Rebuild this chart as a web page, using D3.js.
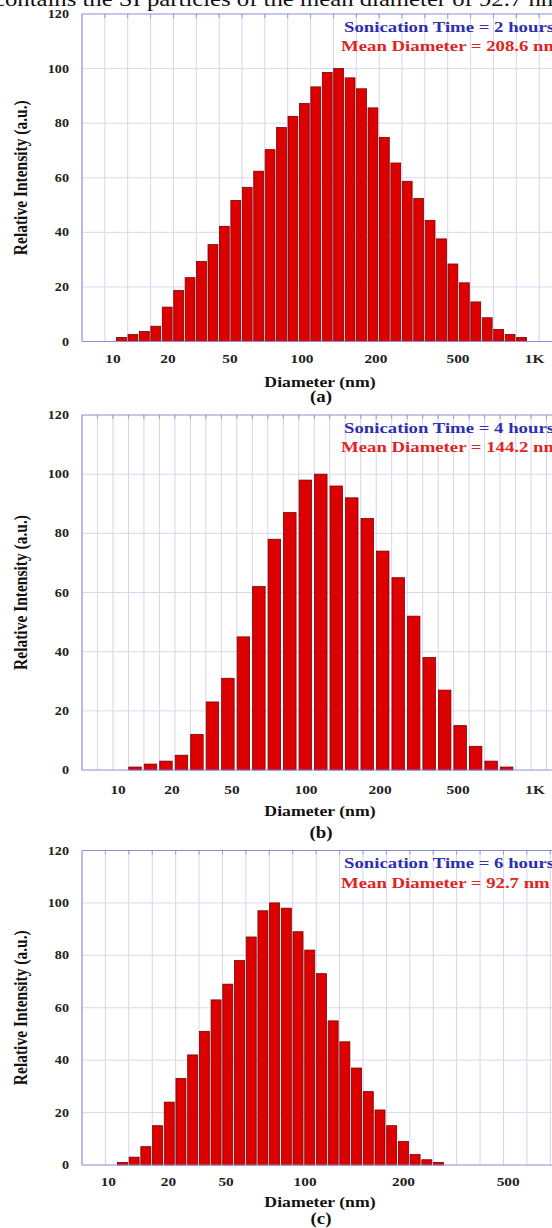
<!DOCTYPE html>
<html>
<head>
<meta charset="utf-8">
<script src="https://cdn.jsdelivr.net/npm/d3@7"></script>
<style>
  html, body { margin: 0; padding: 0; background: #fff; }
  svg { display: block; }
  text { font-family: "Liberation Serif", "Times New Roman", serif; }
</style>
</head>
<body>
<svg id="chart" width="552" height="1228"></svg>
<script>
// ---------------- data ----------------
const captionText = "contains the SI particles of the mean diameter of 92.7 nm";
const panelLabels = ["(a)", "(b)", "(c)"];
const sonicationTimes = ["Sonication Time = 2 hours", "Sonication Time = 4 hours", "Sonication Time = 6 hours"];
const meanDiameters = ["Mean Diameter = 208.6 nm", "Mean Diameter = 144.2 nm", "Mean Diameter = 92.7 nm"];
const yAxisTitle = "Relative Intensity (a.u.)";
const xAxisTitle = "Diameter (nm)";
const yTickValues = [0, 20, 40, 60, 80, 100, 120];

// relative intensity per size bin (bins are equal-width on the display axis)
const intensityA = [1.5, 2.6, 3.7, 5.6, 12.6, 18.7, 23.4, 29.3, 35.5, 42.2, 51.7, 56.5,
                    62.4, 70.3, 78.4, 82.5, 87.2, 93.3, 98.6, 100, 96.6, 92.6, 85.6, 74.8,
                    65.4, 58.7, 52.4, 44.4, 37.6, 28.4, 21.5, 14.5, 8.7, 4.4, 2.6, 1.5];
const intensityB = [1, 2, 3, 5, 12, 23, 31, 45, 62, 78, 87, 98, 100, 96, 92, 85, 74, 65,
                    52, 38, 27, 15, 8, 3, 1];
const intensityC = [1, 3, 7, 15, 24, 33, 42, 51, 63, 69, 78, 87, 97, 100, 98, 89, 82, 73,
                    55, 47, 37, 28, 21, 15, 9, 4, 2, 1];

// x axis in "bin slot" units for each panel
const slotCounts = [42, 31, 41];
const firstBinSlot = 3;
const tickLabelsA = ["10", "20", "50", "100", "200", "500", "1K"];
const tickSlotsA = [2.71, 7.52, 12.95, 19.25, 25.72, 32.9, 39.6];
const tickLabelsB = ["10", "20", "50", "100", "200", "500", "1K"];
const tickSlotsB = [2.33, 5.81, 9.69, 14.47, 19.25, 24.29, 29.26];
const tickLabelsC = ["10", "20", "50", "100", "200", "500"];
const tickSlotsC = [2.25, 7.38, 12.31, 19.06, 27.46, 36.4];

// ---------------- drawing ----------------
const svg = d3.select("#chart");
const STRETCH = 1.18;
function stretch(sel, k) {
  sel.each(function () {
    const w = this.getComputedTextLength();
    d3.select(this).attr("textLength", w * k).attr("lengthAdjust", "spacingAndGlyphs");
  });
}

// clipped caption line from the page above
svg.append("text")
  .attr("x", -6).attr("y", 6)
  .attr("font-size", 21)
  .attr("fill", "#111")
  .text(captionText)
  .attr("textLength", 566).attr("lengthAdjust", "spacingAndGlyphs");

const panels = [
  { values: intensityA, slots: slotCounts[0], ticks: tickSlotsA, tickLabels: tickLabelsA,
    top: 14, bottom: 341.5, gridEvery: 2, barGap: 1.6, tickDy: 17, titleDy: 40, letterDy: 54 },
  { values: intensityB, slots: slotCounts[1], ticks: tickSlotsB, tickLabels: tickLabelsB,
    top: 415, bottom: 770, gridEvery: 1, barGap: 3, tickDy: 19, titleDy: 41, letterDy: 62 },
  { values: intensityC, slots: slotCounts[2], ticks: tickSlotsC, tickLabels: tickLabelsC,
    top: 850.5, bottom: 1165, gridEvery: 2, barGap: 1.7, tickDy: 16, titleDy: 37, letterDy: 53 }
];

const left = 82, right = 562;

panels.forEach((p, pi) => {
  const g = svg.append("g");
  const x = d3.scaleLinear().domain([0, p.slots]).range([left, right]);
  const y = d3.scaleLinear().domain([0, 120]).range([p.bottom, p.top]);

  // vertical grid
  const gridSlots = d3.range(p.gridEvery, p.slots + 1, p.gridEvery);
  g.selectAll(".vg").data(gridSlots).join("line")
    .attr("x1", d => x(d)).attr("x2", d => x(d))
    .attr("y1", y(120)).attr("y2", y(0))
    .attr("stroke", "#d4d4ef").attr("stroke-width", 1);
  // top tick marks
  g.selectAll(".tt").data(gridSlots).join("line")
    .attr("x1", d => x(d)).attr("x2", d => x(d))
    .attr("y1", y(120)).attr("y2", y(120) + 4)
    .attr("stroke", "#9a9ad8").attr("stroke-width", 1);

  // horizontal grid
  g.selectAll(".hg").data(yTickValues.filter(v => v > 0 && v < 120)).join("line")
    .attr("x1", left).attr("x2", right)
    .attr("y1", d => y(d)).attr("y2", d => y(d))
    .attr("stroke", "#d8d8f0").attr("stroke-width", 1);

  // bars
  const slotW = x(1) - x(0);
  g.selectAll(".bar").data(p.values).join("rect")
    .attr("x", (d, i) => x(firstBinSlot + i) + 0.3)
    .attr("width", slotW - p.barGap)
    .attr("y", d => y(d))
    .attr("height", d => y(0) - y(d))
    .attr("fill", "#dc0000")
    .attr("stroke", "#7c0000").attr("stroke-width", 0.8);

  // axes / frame
  g.append("line").attr("x1", left).attr("x2", right).attr("y1", y(120)).attr("y2", y(120))
    .attr("stroke", "#8c8cd6").attr("stroke-width", 1.2);
  g.append("line").attr("x1", left).attr("x2", right).attr("y1", y(0)).attr("y2", y(0))
    .attr("stroke", "#8c8cd6").attr("stroke-width", 1.2);
  g.append("line").attr("x1", left).attr("x2", left).attr("y1", y(120)).attr("y2", y(0))
    .attr("stroke", "#8c8cd6").attr("stroke-width", 1.2);

  // y tick labels
  const yl = g.selectAll(".yl").data(yTickValues).join("text")
    .attr("x", left - 13).attr("y", d => y(d) + 4)
    .attr("text-anchor", "end")
    .attr("font-size", 12).attr("font-weight", "bold").attr("fill", "#222")
    .text(d => d);
  stretch(yl, STRETCH);

  // x tick labels
  const xl = g.selectAll(".xl").data(p.ticks).join("text")
    .attr("x", d => x(d)).attr("y", p.bottom + p.tickDy + 4.5)
    .attr("text-anchor", "middle")
    .attr("font-size", 13).attr("font-weight", "bold").attr("fill", "#222")
    .text((d, i) => p.tickLabels[i]);
  stretch(xl, STRETCH);

  // axis titles
  const xt = g.append("text")
    .attr("x", 320).attr("y", p.bottom + p.titleDy + 5)
    .attr("text-anchor", "middle")
    .attr("font-size", 15).attr("font-weight", "bold").attr("fill", "#111")
    .text(xAxisTitle);
  stretch(xt, STRETCH);

  const lt = g.append("text")
    .attr("x", 321).attr("y", p.bottom + p.letterDy + 6)
    .attr("text-anchor", "middle")
    .attr("font-size", 16).attr("font-weight", "bold").attr("fill", "#111")
    .text(panelLabels[pi]);
  stretch(lt, STRETCH);

  const cy = (p.top + p.bottom) / 2;
  g.append("text")
    .attr("transform", `translate(27,${cy}) scale(1.15,1) rotate(-90)`)
    .attr("text-anchor", "middle")
    .attr("font-size", 15.5).attr("font-weight", "bold").attr("fill", "#111")
    .text(yAxisTitle);

  // legend texts
  const l1 = g.append("text")
    .attr("x", 344).attr("y", p.top + 17.5)
    .attr("font-size", 15).attr("font-weight", "bold").attr("fill", "#2e2eb0")
    .text(sonicationTimes[pi]);
  stretch(l1, 1.25);
  const l2 = g.append("text")
    .attr("x", 341).attr("y", p.top + 37)
    .attr("font-size", 15).attr("font-weight", "bold").attr("fill", "#e02424")
    .text(meanDiameters[pi]);
  stretch(l2, 1.25);
});
</script>
</body>
</html>
